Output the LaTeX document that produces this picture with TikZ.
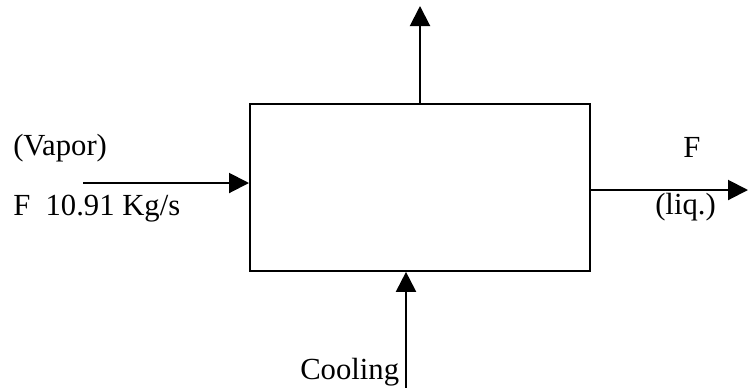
\documentclass[tikz,border=0pt]{standalone}
\usepackage{fontspec}
\setmainfont{Liberation Serif}
\usetikzlibrary{arrows.meta}

\tikzset{
    unit/.style={draw, line width=1.5pt, minimum width=255pt, minimum height=125pt, inner sep=0pt},
    stream/.style={line width=1.5pt, -{Triangle[length=15pt, width=15pt]}},
    lbl/.style={inner sep=0pt, anchor=base west, font=\fontsize{23}{27}\selectfont}
}

\begin{document}
\begin{tikzpicture}[x=0.75pt, y=-0.75pt]
\useasboundingbox (0,0) rectangle (748,387);
\node[unit] (cond) at (420,187.5) {};
\coordinate (vapin) at (83,183);
\coordinate (top) at (420,6);
\coordinate (liqout) at (748,190);
\coordinate (cool) at (406,390);
\draw[stream] (vapin) -- (vapin -| cond.west);
\draw[stream] (cond.north) -- (top);
\draw[stream] (liqout -| cond.east) -- (liqout);
\draw[stream] (cool) -- (cool |- cond.south);
\node[lbl] (vap) at (13,155) {(Vapor)};
\node[lbl] (feed) at (13,215) {F\ \ 10.91 Kg/s};
\node[lbl] (fout) at (683,157) {F};
\node[lbl] (liq) at (655,214) {(liq.)};
\node[lbl] (cw) at (300,379) {Cooling};
\end{tikzpicture}
\end{document}
